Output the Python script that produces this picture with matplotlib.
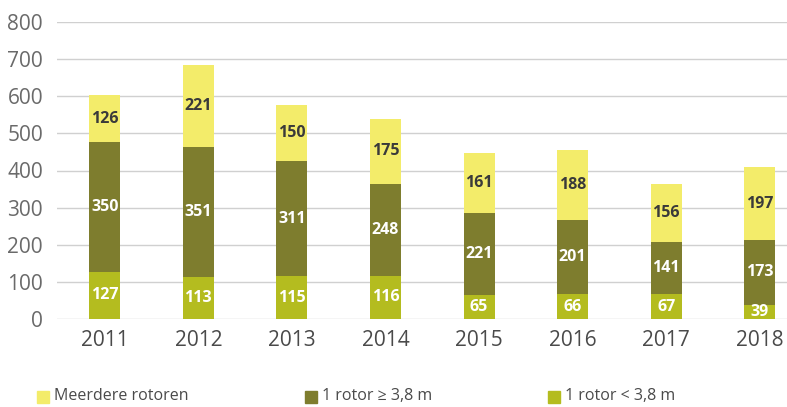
import matplotlib
matplotlib.use('Agg')
import matplotlib.pyplot as plt
import numpy as np
from matplotlib.patches import Rectangle

plt.rcParams['font.family'] = ['Open Sans', 'DejaVu Sans']

years = ['2011', '2012', '2013', '2014', '2015', '2016', '2017', '2018']
small_rotor = [127, 113, 115, 116, 65, 66, 67, 39]
large_rotor = [350, 351, 311, 248, 221, 201, 141, 173]
multi_rotor = [126, 221, 150, 175, 161, 188, 156, 197]

series_names = ['Meerdere rotoren', '1 rotor \u2265 3,8 m', '1 rotor < 3,8 m']
c_multi = '#F3EC6A'
c_large = '#7E7D2E'
c_small = '#B4BC1F'

fig = plt.figure(figsize=(7.87, 4.07), dpi=100)
ax = fig.add_axes([57 / 787, 1 - 319 / 407, 1 - 57 / 787, (319 - 22) / 407])

x = np.arange(len(years))
w = 0.33
small = np.array(small_rotor)
large = np.array(large_rotor)
multi = np.array(multi_rotor)

ax.bar(x, small, w, color=c_small, zorder=2)
ax.bar(x, large, w, bottom=small, color=c_large, zorder=2)
ax.bar(x, multi, w, bottom=small + large, color=c_multi, zorder=2)

for i in range(len(years)):
    ax.text(x[i], small[i] / 2, str(small[i]), ha='center', va='center',
            color='white', fontsize=11.5, fontweight='bold', zorder=3)
    ax.text(x[i], small[i] + large[i] / 2, str(large[i]), ha='center', va='center',
            color='white', fontsize=11.5, fontweight='bold', zorder=3)
    ax.text(x[i], small[i] + large[i] + multi[i] / 2, str(multi[i]), ha='center', va='center',
            color='#3a3a3a', fontsize=11.5, fontweight='bold', zorder=3)

ax.set_ylim(0, 800)
ax.set_xlim(-0.51, 7.29)
ax.set_yticks(range(0, 801, 100))
ax.set_xticks(x)
ax.set_xticklabels(years)
ax.yaxis.grid(True, color='#d0d0d0', linewidth=1, zorder=0)
ax.set_axisbelow(True)
for s in ax.spines.values():
    s.set_visible(False)
ax.tick_params(axis='both', length=0, labelsize=15)
ax.tick_params(axis='y', pad=10, labelcolor='#6a6a6a')
ax.tick_params(axis='x', pad=8, labelcolor='#4a4a4a')

# legend
leg_x = [37, 305, 548]
leg_cols = [c_multi, c_large, c_small]
for lx, col, name in zip(leg_x, leg_cols, series_names):
    fig.patches.append(Rectangle((lx / 787, 1 - 403 / 407), 12 / 787, 12 / 407,
                                 transform=fig.transFigure, color=col))
    fig.text((lx + 17) / 787, 1 - 396 / 407, name, ha='left', va='center',
             fontsize=11.5, color='#4a4a4a')

fig.savefig('out.png', dpi=100)
